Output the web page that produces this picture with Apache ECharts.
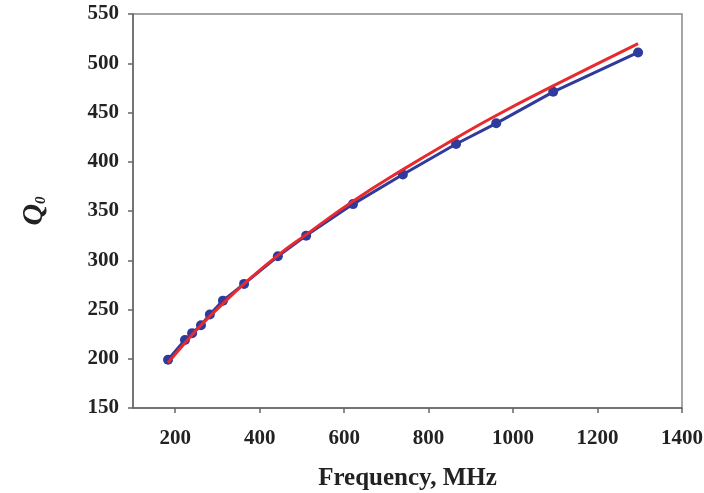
<!DOCTYPE html>
<html>
<head>
<meta charset="utf-8">
<script src="https://cdn.jsdelivr.net/npm/echarts@6/dist/echarts.min.js"></script>
<style>html,body{margin:0;padding:0;background:#fff;}#c{width:704px;height:493px;}</style>
</head>
<body>
<div id="c"></div>
<script>
var freq = [183, 223, 240, 261, 282, 313, 363, 443, 510, 621, 739, 865, 960, 1095, 1296];
var q0Measured = [199, 219, 226, 234, 245, 259, 276, 304, 325, 357, 387, 418, 439, 471, 511];
var fitFreq = [183, 223, 261, 313, 363, 443, 510, 621, 739, 865, 960, 1095, 1296];
var q0Fit = [196, 216, 234, 256, 276, 305, 326, 360, 392, 424, 447, 477, 520];
var xTicks = [200, 400, 600, 800, 1000, 1200, 1400];

function pairs(xs, ys){ return xs.map(function(x,i){ return [x, ys[i]]; }); }

var chart = echarts.init(document.getElementById('c'));
var axisColor = '#666';
var font = 'Liberation Serif';
chart.setOption({
  animation: false,
  grid: {left: 133, right: 22, top: 14, bottom: 85, show: true, borderColor: '#888', borderWidth: 1.5,
    containLabel: false, outerBoundsMode: 'none'},
  xAxis: {
    type: 'value', min: 100, max: 1400,
    name: 'Frequency, MHz', nameLocation: 'middle', nameGap: 58,
    nameTextStyle: {fontFamily: font, fontWeight: 'bold', fontSize: 25, color: '#222'},
    axisLine: {show: true, lineStyle: {color: axisColor, width: 1.5}},
    axisTick: {show: true, inside: false, length: 5, customValues: xTicks, lineStyle: {color: axisColor, width: 1.5}},
    axisLabel: {customValues: xTicks, margin: 20, formatter: function(v){ return String(v); },
      fontFamily: font, fontWeight: 'bold', fontSize: 21, color: '#222'},
    splitLine: {show: false}
  },
  yAxis: {
    type: 'value', min: 150, max: 550, interval: 50,
    name: '{q|Q}{s|0}', nameLocation: 'middle', nameGap: 84,
    nameTextStyle: {rich: {
      q: {fontFamily: font, fontStyle: 'italic', fontWeight: 'bold', fontSize: 30, color: '#222'},
      s: {fontFamily: font, fontStyle: 'italic', fontWeight: 'bold', fontSize: 15, color: '#222', verticalAlign: 'bottom', padding: [14, 0, 0, 0]}
    }},
    axisLine: {show: true, lineStyle: {color: axisColor, width: 1.5}},
    axisTick: {show: true, inside: false, length: 5, lineStyle: {color: axisColor, width: 1.5}},
    axisLabel: {margin: 14, fontFamily: font, fontWeight: 'bold', fontSize: 21, color: '#222'},
    splitLine: {show: false}
  },
  series: [
    {
      type: 'line', data: pairs(freq, q0Measured),
      symbol: 'circle', symbolSize: 10,
      lineStyle: {color: '#2f3b9c', width: 3},
      itemStyle: {color: '#2f3b9c'}, z: 2
    },
    {
      type: 'line', data: pairs(fitFreq, q0Fit), smooth: true,
      showSymbol: false, symbol: 'none',
      lineStyle: {color: '#e8292e', width: 3}, z: 3
    }
  ]
});
</script>
</body>
</html>
